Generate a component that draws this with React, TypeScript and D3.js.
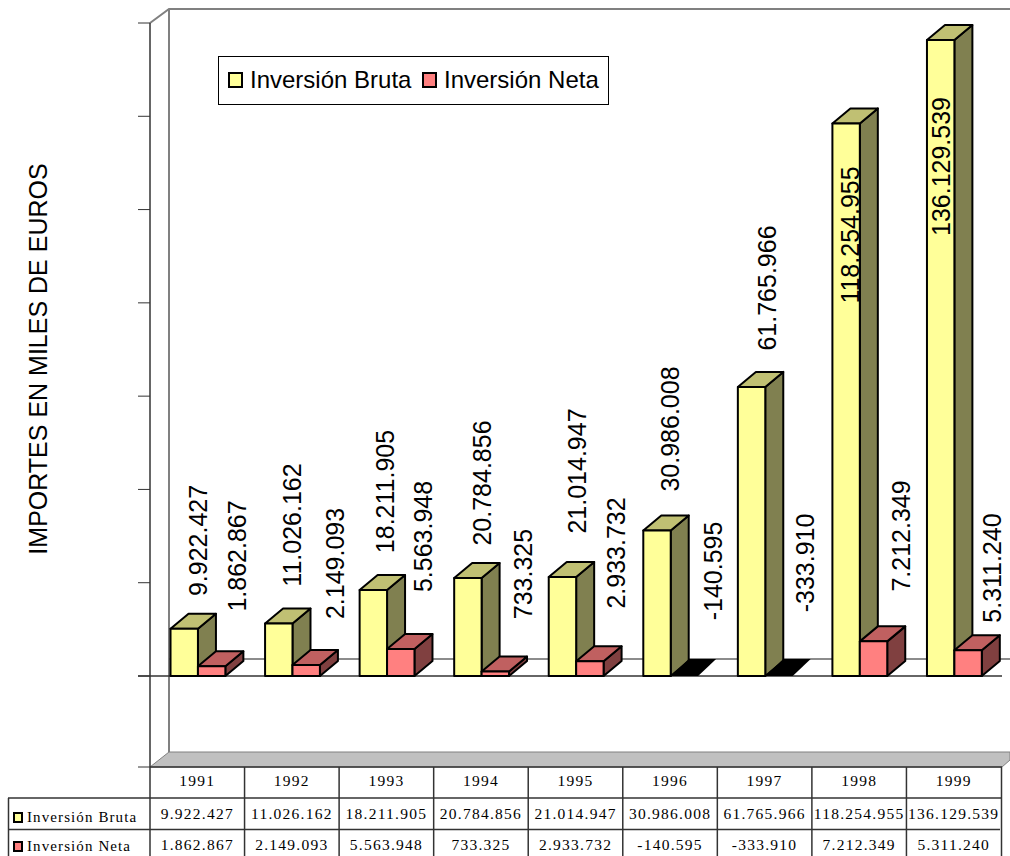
import React from "react";
import * as d3 from "d3";

const years = ["1991","1992","1993","1994","1995","1996","1997","1998","1999"];
const bruta = [9922427,11026162,18211905,20784856,21014947,30986008,61765966,118254955,136129539];
const neta = [1862867,2149093,5563948,733325,2933732,-140595,-333910,7212349,5311240];
const seriesNames = ["Inversión Bruta","Inversión Neta"];
const axisTitle = "IMPORTES EN MILES DE EUROS";
const tickValues = [-20e6,0,20e6,40e6,60e6,80e6,100e6,120e6,140e6];

// layout only: vertical centre and baseline x of each rotated value label
const brutaLabelY = [540.5,525,491.5,483,471,429,288,235,166.5];
const brutaLabelX = [207,301,394,491,586,679,776,859,950];
const netaLabelY = [556,563.5,536.5,574,553,571,563,536,568];
const netaLabelX = [246,344,432,532,625,722,814,910,1001];

const fmt = (v:number)=>{
  const s = Math.abs(v).toString().replace(/\B(?=(\d{3})+(?!\d))/g,".");
  return (v<0?"-":"")+s;
};

const colors = [
  {front:"#FFFF99",top:"#C0C073",side:"#808050"},
  {front:"#FF8080",top:"#C06060",side:"#804040"},
];
const DX=18, DY=15;
const SANS="'Liberation Sans', Arial, sans-serif";
const SERIF="'Liberation Serif', 'Times New Roman', serif";

export default function App(){
  const y = d3.scaleLinear().domain([0,140e6]).range([676,23]);
  const x = d3.scaleBand<string>().domain(years).range([150,1001]).padding(0);
  const colEdges = [...years.map(c=>x(c)!), 1001.5];
  const left=150,right=1002,top=23,bottom=767,wallX=169,wallTop=9,wallBottom=752;
  const zero=y(0);
  const barW=x.bandwidth()*0.29;
  const barOff=x.bandwidth()*0.217;

  const bar=(v:number,xl:number,c:typeof colors[0],key:string)=>{
    const neg=v<0;
    const yt=neg?zero:y(v)-1, yb=zero;
    const dy=neg?17:DY;
    const xr=xl+barW;
    const poly=(p:number[][])=>p.map(a=>a.join(",")).join(" ");
    if(neg) return <polygon key={key} points={poly([[xl,yt],[xl+DX,yt-dy],[xr+DX,yt-dy],[xr,yt]])} fill="#000"/>;
    return <g key={key} stroke="#000" strokeWidth={2} strokeLinejoin="round">
      <polygon points={poly([[xr,yt],[xr+DX,yt-dy],[xr+DX,yb-dy],[xr,yb]])} fill={c.side}/>
      <polygon points={poly([[xl,yt],[xl+DX,yt-dy],[xr+DX,yt-dy],[xr,yt]])} fill={c.top}/>
      <rect x={xl} y={yt} width={barW} height={yb-yt} fill={c.front}/>
    </g>;
  };

  const tableRows=[767,798,829.5];
  const cellText=(t:string,cx:number,cy:number,k:string)=>
    <text key={k} x={cx} y={cy} textAnchor="middle" fontFamily={SERIF} fontSize={15.5} letterSpacing={1.25} fill="#000">{t}</text>;

  return <svg width={1010} height={856} style={{position:"absolute",left:0,top:0,background:"#fff"}}>
    {/* floor */}
    <polygon points={`${left},${bottom} ${wallX},${wallBottom} 1010,${wallBottom} 1010,760 ${right},${bottom}`} fill="#C0C0C0" stroke="#808080" strokeWidth={1}/>
    {/* walls */}
    <polyline points={`${left},${top} ${wallX},${wallTop} 1010,${wallTop}`} fill="none" stroke="#808080" strokeWidth={2}/>
    <line x1={wallX} x2={wallX} y1={wallTop} y2={wallBottom} stroke="#808080" strokeWidth={2}/>
    <line x1={left} x2={left} y1={top} y2={bottom} stroke="#333" strokeWidth={1.5}/>
    {/* ticks */}
    {tickValues.map(t=>{const ty=Math.min(y(t),bottom);return <line key={t} x1={138} x2={left} y1={ty} y2={ty} stroke="#333" strokeWidth={1}/>;})}
    {/* zero plane */}
    <line x1={wallX} x2={1010} y1={zero-17} y2={zero-17} stroke="#666" strokeWidth={1.5}/>
    <line x1={138} x2={right} y1={zero} y2={zero} stroke="#333" strokeWidth={1.5}/>
    {/* bars */}
    {years.map((yr,i)=>{
      const b=x(yr)!+barOff;
      return <g key={yr}>
        {bar(bruta[i],b,colors[0],"b"+yr)}
        {bar(neta[i],b+barW,colors[1],"n"+yr)}
      </g>;
    })}
    {/* value labels */}
    {years.map((yr,i)=><g key={"l"+yr} fontFamily={SANS} fontSize={25} fill="#000" textAnchor="middle">
      <text transform={`translate(${brutaLabelX[i]},${brutaLabelY[i]}) rotate(-90)`}>{fmt(bruta[i])}</text>
      <text transform={`translate(${netaLabelX[i]},${netaLabelY[i]}) rotate(-90)`}>{fmt(neta[i])}</text>
    </g>)}
    {/* axis title */}
    <text transform="translate(47,359) rotate(-90)" textAnchor="middle" fontFamily={SANS} fontSize={25} fill="#000">{axisTitle}</text>
    {/* legend */}
    <rect x={218.5} y={56.5} width={390} height={48} fill="#fff" stroke="#000" strokeWidth={1}/>
    <rect x={229} y={73} width={13} height={14} fill={colors[0].front} stroke="#000" strokeWidth={2}/>
    <text x={250} y={88} fontFamily={SANS} fontSize={24} fill="#000">{seriesNames[0]}</text>
    <rect x={423} y={73} width={13} height={14} fill={colors[1].front} stroke="#000" strokeWidth={2}/>
    <text x={444} y={88} fontFamily={SANS} fontSize={24} fill="#000">{seriesNames[1]}</text>
    {/* table */}
    <g stroke="#333" strokeWidth={1.5}>
      <line x1={left} x2={right} y1={tableRows[0]} y2={tableRows[0]}/>
      <line x1={8} x2={right} y1={tableRows[1]} y2={tableRows[1]}/>
      <line x1={8} x2={1000} y1={tableRows[2]} y2={tableRows[2]}/>
      <line x1={8.5} x2={8.5} y1={tableRows[1]} y2={856}/>
      {colEdges.map(e=><line key={e} x1={e} x2={e} y1={bottom} y2={856}/>)}
    </g>
    {years.map((yr,i)=>{
      const cx=x(yr)!+x.bandwidth()/2;
      return <g key={"t"+yr}>
        {cellText(yr,cx,786,"y")}
        {cellText(fmt(bruta[i]),cx,819,"a")}
        {cellText(fmt(neta[i]),cx,850,"c")}
      </g>;
    })}
    <rect x={14} y={813} width={8} height={9} fill={colors[0].front} stroke="#000" strokeWidth={2}/>
    <rect x={14} y={842} width={8} height={9} fill={colors[1].front} stroke="#000" strokeWidth={2}/>
    <text x={27} y={822} fontFamily={SERIF} fontSize={15} letterSpacing={1.1}>{seriesNames[0]}</text>
    <text x={27} y={851} fontFamily={SERIF} fontSize={15} letterSpacing={1.1}>{seriesNames[1]}</text>
  </svg>;
}
